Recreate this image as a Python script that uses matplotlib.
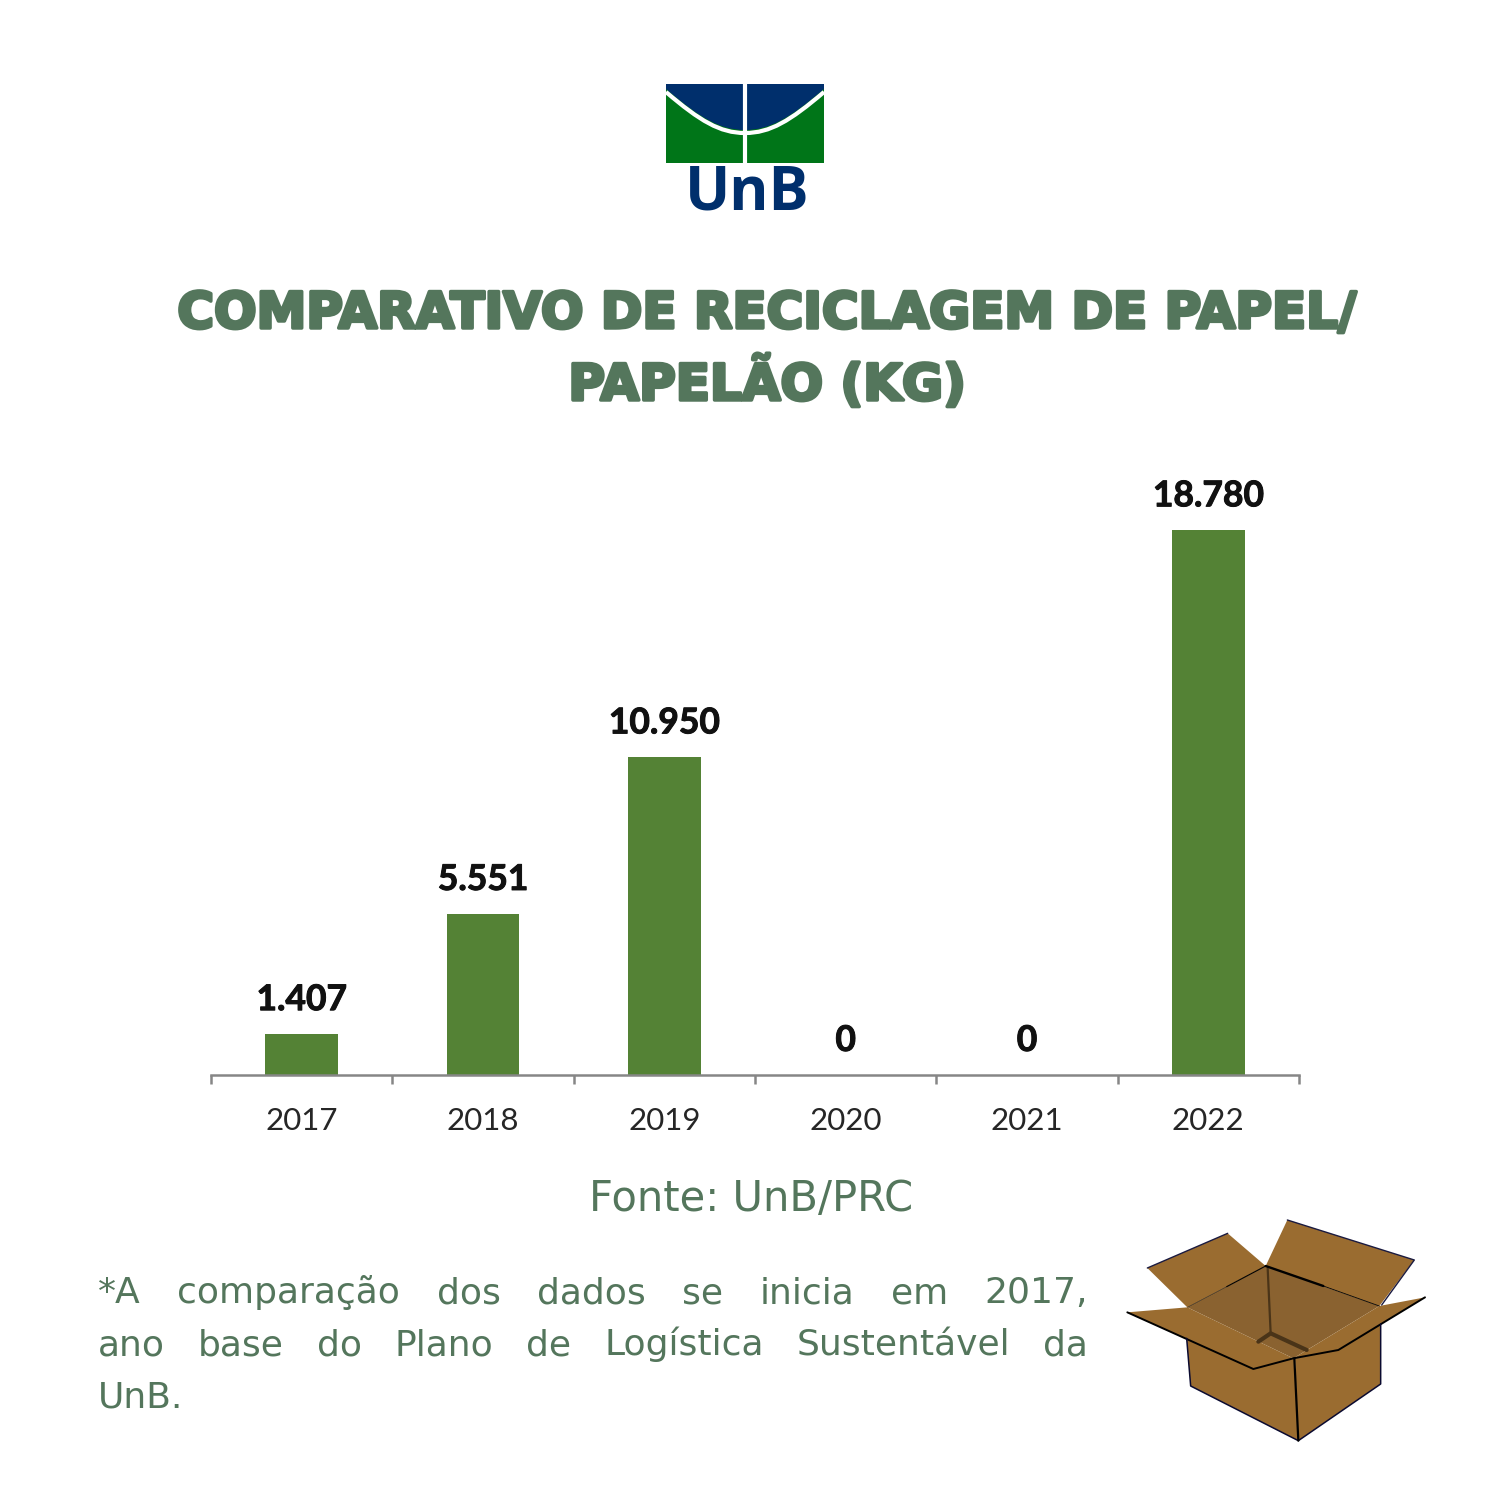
import matplotlib
matplotlib.use('Agg')
import matplotlib.pyplot as plt
import matplotlib.patheffects as pe
from matplotlib.patches import PathPatch, Polygon, Rectangle
from matplotlib.path import Path

years = ["2017", "2018", "2019", "2020", "2021", "2022"]
paper_kg = [1407, 5551, 10950, 0, 0, 18780]
value_labels = ["1.407", "5.551", "10.950", "0", "0", "18.780"]

title_lines = ["COMPARATIVO DE RECICLAGEM DE PAPEL/", "PAPELÃO (KG)"]
source = "Fonte: UnB/PRC"
note_lines = ["*A comparação dos dados se inicia em 2017,",
              "ano base do Plano de Logística Sustentável da",
              "UnB."]

TEXT_GREEN = "#54765c"
BAR_GREEN = "#548235"
NAVY = "#002f6c"
LOGO_GREEN = "#007518"
BOX = "#9a6c30"
BOX_IN = "#8a6230"

W = H = 1500
plt.rcParams['font.family'] = ['Lato', 'DejaVu Sans']
fig = plt.figure(figsize=(15, 15), dpi=100, facecolor="white")

# chart, pixel box from the reference
ax = fig.add_axes([211 / W, (W - 1075) / H, 1088 / W, 580 / H])
bars = ax.bar(range(len(years)), paper_kg, width=0.4, color=BAR_GREEN)
ax.set_xlim(-0.5, 5.5)
ax.set_ylim(0, 20000)
ax.set_yticks([])
for s in ["left", "top", "right"]:
    ax.spines[s].set_visible(False)
ax.spines["bottom"].set_color("#868686")
ax.spines["bottom"].set_linewidth(1.8)
ax.set_xticks([i - 0.5 for i in range(len(years) + 1)], labels=[])
ax.tick_params(axis="x", which="major", length=6.5, width=1.8, color="#868686")
ax.set_xticks(range(len(years)), labels=years, minor=True)
ax.tick_params(axis="x", which="minor", length=0, pad=23, labelsize=22.5, labelcolor="#262626")
ax.bar_label(bars, labels=value_labels, padding=13, fontsize=25.5, fontweight="bold", color="#111111",
             path_effects=[pe.withStroke(linewidth=0.7, foreground="#111111")])

# overlay in reference pixels for logo and box
ov = fig.add_axes([0, 0, 1, 1], zorder=5)
ov.set_xlim(0, W)
ov.set_ylim(H, 0)
ov.axis("off")

# logo
ov.add_patch(Rectangle((666, 84), 158, 79, color=LOGO_GREEN, lw=0))
shield = Path([(666, 84), (824, 84), (824, 89),
               (790, 118), (770, 130), (745, 130),
               (720, 130), (700, 118), (666, 89), (666, 84)],
              [Path.MOVETO, Path.LINETO, Path.LINETO,
               Path.CURVE4, Path.CURVE4, Path.CURVE4,
               Path.CURVE4, Path.CURVE4, Path.CURVE4, Path.CLOSEPOLY])
ov.add_patch(PathPatch(shield, facecolor=NAVY, edgecolor="none"))
arc = Path([(666, 92), (700, 121), (720, 133), (745, 133), (770, 133), (790, 121), (824, 92)],
           [Path.MOVETO, Path.CURVE4, Path.CURVE4, Path.CURVE4, Path.CURVE4, Path.CURVE4, Path.CURVE4])
ov.add_patch(PathPatch(arc, facecolor="none", edgecolor="white", lw=3))
ov.plot([745, 745], [84, 163], color="white", lw=3, solid_capstyle="butt")
ov.text(747, 209, "UnB", color=NAVY, family="Open Sans", fontweight="bold", fontsize=43,
        ha="center", va="baseline")


def bx(points):
    return [(1110 + x / 3, 1200 + y / 3) for x, y in points]


def poly(points, face=BOX):
    ov.add_patch(Polygon(bx(points), closed=True, facecolor=face, edgecolor="none"))


def edge(points, lw=1.5, color="black"):
    xy = bx(points)
    ov.plot([p[0] for p in xy], [p[1] for p in xy], color=color, lw=lw, solid_capstyle="round")


poly([(532, 60), (913, 180), (808, 318), (467, 198)])
poly([(353, 100), (467, 198), (232, 322), (112, 204)])
poly([(232, 322), (467, 198), (808, 318), (550, 475)], BOX_IN)
edge([(473, 205), (482, 400)], 1.6, "#4a3418")
edge([(445, 425), (482, 400), (590, 450)], 3, "#4a3418")
poly([(230, 415), (552, 475), (565, 722), (242, 558)])
poly([(555, 475), (685, 450), (812, 372), (812, 552), (565, 722)])
poly([(52, 337), (232, 322), (550, 475), (430, 507)])
poly([(945, 292), (808, 318), (550, 475), (685, 450)])
edge([(353, 100), (112, 204)], 1, "#1a1a40")
edge([(532, 60), (913, 180), (815, 315)], 1, "#1a1a40")
# rim tapers away from the back corner
edge([(232, 322), (350, 260)], 0.3)
edge([(350, 260), (467, 198)], 0.8)
edge([(467, 198), (640, 258)], 1.7)
edge([(640, 258), (808, 318)], 0.6)
edge([(52, 337), (430, 507), (550, 475), (685, 450), (945, 292)], 1.4)
edge([(230, 415), (242, 558), (565, 722), (812, 552), (812, 372)], 1.1, "#0a0a30")
edge([(553, 475), (565, 722)], 1.6)

# title
title_style = dict(color=TEXT_GREEN, family="DejaVu Sans", fontweight="bold", fontsize=36, ha="center", va="baseline",
                   path_effects=[pe.withStroke(linewidth=2.5, foreground=TEXT_GREEN)])
fig.text(767 / W, 1 - 328 / H, title_lines[0], **title_style)
fig.text(767 / W, 1 - 400 / H, title_lines[1], **title_style)

fig.text(751 / W, 1 - 1211 / H, source, color=TEXT_GREEN, family="DejaVu Sans", fontsize=30,
         ha="center", va="baseline")

# note is justified word by word like the original
NOTE_X0, NOTE_X1 = 98, 1088
note_y = [1303, 1355, 1407]
renderer = fig.canvas.get_renderer()
for line, y in zip(note_lines, note_y):
    words = line.split(" ")
    items = [ov.text(0, y, w, color=TEXT_GREEN, family="DejaVu Sans", fontsize=26, ha="left", va="baseline")
             for w in words]
    widths = [t.get_window_extent(renderer).width for t in items]
    gap = (NOTE_X1 - NOTE_X0 - sum(widths)) / (len(words) - 1) if len(words) > 1 else 0
    x = NOTE_X0
    for t, w in zip(items, widths):
        t.set_x(x)
        x += w + gap

fig.savefig("out.png", dpi=100, facecolor="white")
